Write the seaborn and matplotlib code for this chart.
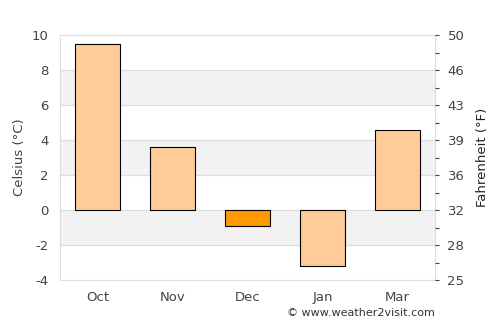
import matplotlib
matplotlib.use("Agg")
import matplotlib.pyplot as plt
import seaborn as sns
import pandas as pd

# --- datos ---
meses = ["Oct", "Nov", "Dec", "Jan", "Mar"]
celsius = [9.5, 3.6, -0.9, -3.2, 4.6]
destacado = ["no", "no", "si", "no", "no"]

df = pd.DataFrame({"mes": meses, "temp": celsius, "dest": destacado})

sns.set_style("white")
plt.rcParams['font.family'] = ['DejaVu Sans']

fig = plt.figure(figsize=(5, 3.25), dpi=100)
ax = fig.add_axes([0.12, 0.138, 0.75, 0.754])

# bandas grises alternas
for y0 in [-2, 2, 6]:
    ax.axhspan(y0, y0 + 2, color="#f2f2f2", zorder=0)
for y in range(-2, 10, 2):
    ax.axhline(y, color="#dddddd", linewidth=0.8, zorder=0.5)

sns.barplot(data=df, x="mes", y="temp", hue="dest",
            palette={"no": "#ffcc99", "si": "#ff9900"}, saturation=1,
            width=0.6, edgecolor="black", linewidth=0.8,
            legend=False, ax=ax, zorder=2)

ax.set_ylim(-4, 10)
ax.set_yticks(range(-4, 11, 2))
ax.set_yticklabels([str(v) for v in range(-4, 11, 2)])
ax.set_xlim(-0.5, 4.5)
ax.set_xlabel("")
ax.set_ylabel("Celsius (°C)", color="#444444", fontsize=9.5)
ax.tick_params(axis="both", colors="#444444", labelsize=9.5, length=0, pad=8)
for s in ax.spines.values():
    s.set_color("#dddddd")
    s.set_linewidth(0.8)

# eje Fahrenheit
ax2 = ax.twinx()
ax2.set_ylim(-4 * 9 / 5 + 32, 10 * 9 / 5 + 32)
mayores = [c * 9 / 5 + 32 for c in range(-4, 11, 2)]
menores = [c * 9 / 5 + 32 for c in range(-3, 10, 2)]
ax2.set_yticks(mayores)
ax2.set_yticklabels([str(round(f)) for f in mayores])
ax2.set_yticks(menores, minor=True)
ax2.tick_params(axis="y", which="both", colors="#444444", labelsize=9.5, length=3, width=0.8, pad=6)
ax2.set_ylabel("Fahrenheit (°F)", color="#222222", fontsize=9.5, labelpad=8)
for s in ax2.spines.values():
    s.set_visible(False)

fig.text(0.87, 0.02, "© www.weather2visit.com", ha="right", va="bottom",
         fontsize=8, color="#333333")

fig.savefig("out.png", dpi=100)
